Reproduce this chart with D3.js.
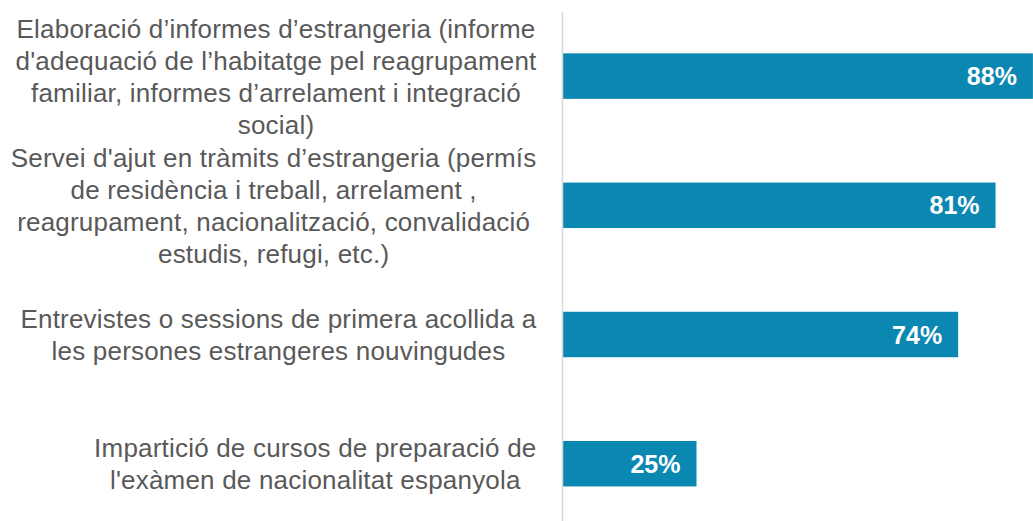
<!DOCTYPE html>
<html>
<head>
<meta charset="utf-8">
<script src="https://cdn.jsdelivr.net/npm/d3@7"></script>
<style>
  html, body { margin: 0; padding: 0; background: #fff; }
  svg { display: block; }
</style>
</head>
<body>
<svg id="chart" width="1033" height="521"></svg>
<script>
// Services offered (each label split into its displayed lines)
const categories = [
  ["Elaboració d’informes d’estrangeria (informe",
   "d'adequació de l’habitatge pel reagrupament",
   "familiar, informes d’arrelament i integració",
   "social)"],
  ["Servei d'ajut en tràmits d’estrangeria (permís",
   "de residència i treball, arrelament ,",
   "reagrupament, nacionalització, convalidació",
   "estudis, refugi, etc.)"],
  ["Entrevistes o sessions de primera acollida a",
   "les persones estrangeres nouvingudes"],
  ["Impartició de cursos de preparació de",
   "l'exàmen de nacionalitat espanyola"]
];
const values = [88, 81, 74, 25];
const valueLabels = ["88%", "81%", "74%", "25%"];

const W = 1033, H = 521;
const svg = d3.select("#chart");

const x = d3.scaleLinear().domain([0, 100]).range([563, 1097]);
const y = d3.scaleBand()
  .domain(d3.range(categories.length))
  .range([11.5, 528.3])
  .paddingInner(0.648)
  .paddingOuter(0.324);

// bars
svg.selectAll("rect.bar")
  .data(values)
  .join("rect")
  .attr("class", "bar")
  .attr("x", x(0))
  .attr("y", (d, i) => y(i))
  .attr("width", d => x(d) - x(0))
  .attr("height", y.bandwidth())
  .attr("fill", "#0b88b2");

// vertical category axis line
svg.append("line")
  .attr("x1", x(0) - 0.5).attr("x2", x(0) - 0.5)
  .attr("y1", 12).attr("y2", H)
  .attr("stroke", "#d9d9d9").attr("stroke-width", 1.5);

// value labels inside the bar ends
svg.selectAll("text.val")
  .data(values)
  .join("text")
  .attr("class", "val")
  .attr("x", d => x(d) - 16)
  .attr("y", (d, i) => y(i) + y.bandwidth() / 2)
  .attr("dy", "0.36em")
  .attr("text-anchor", "end")
  .attr("font-family", "'Liberation Sans', Arial, sans-serif")
  .attr("font-weight", "bold")
  .attr("font-size", 25)
  .attr("fill", "#ffffff")
  .text((d, i) => valueLabels[i]);

// category labels: block right-aligned, lines centered within the block
const lineH = 32;
const blockRight = 536.5;
categories.forEach((lines, i) => {
  const g = svg.append("g");
  const cy = y(i) + y.bandwidth() / 2 + 0.6;
  const t = g.append("text")
    .attr("font-family", "'Liberation Sans', Arial, sans-serif")
    .attr("font-size", 26)
    .attr("letter-spacing", 0.2)
    .attr("fill", "#595959")
    .attr("text-anchor", "middle");
  lines.forEach((ln, k) => {
    t.append("tspan")
      .attr("x", 0)
      .attr("y", cy + (k - (lines.length - 1) / 2) * lineH)
      .attr("dy", "0.35em")
      .text(ln);
  });
  const maxW = d3.max(t.selectAll("tspan").nodes(), n => n.getComputedTextLength());
  t.selectAll("tspan").attr("x", blockRight - maxW / 2);
});
</script>
</body>
</html>
